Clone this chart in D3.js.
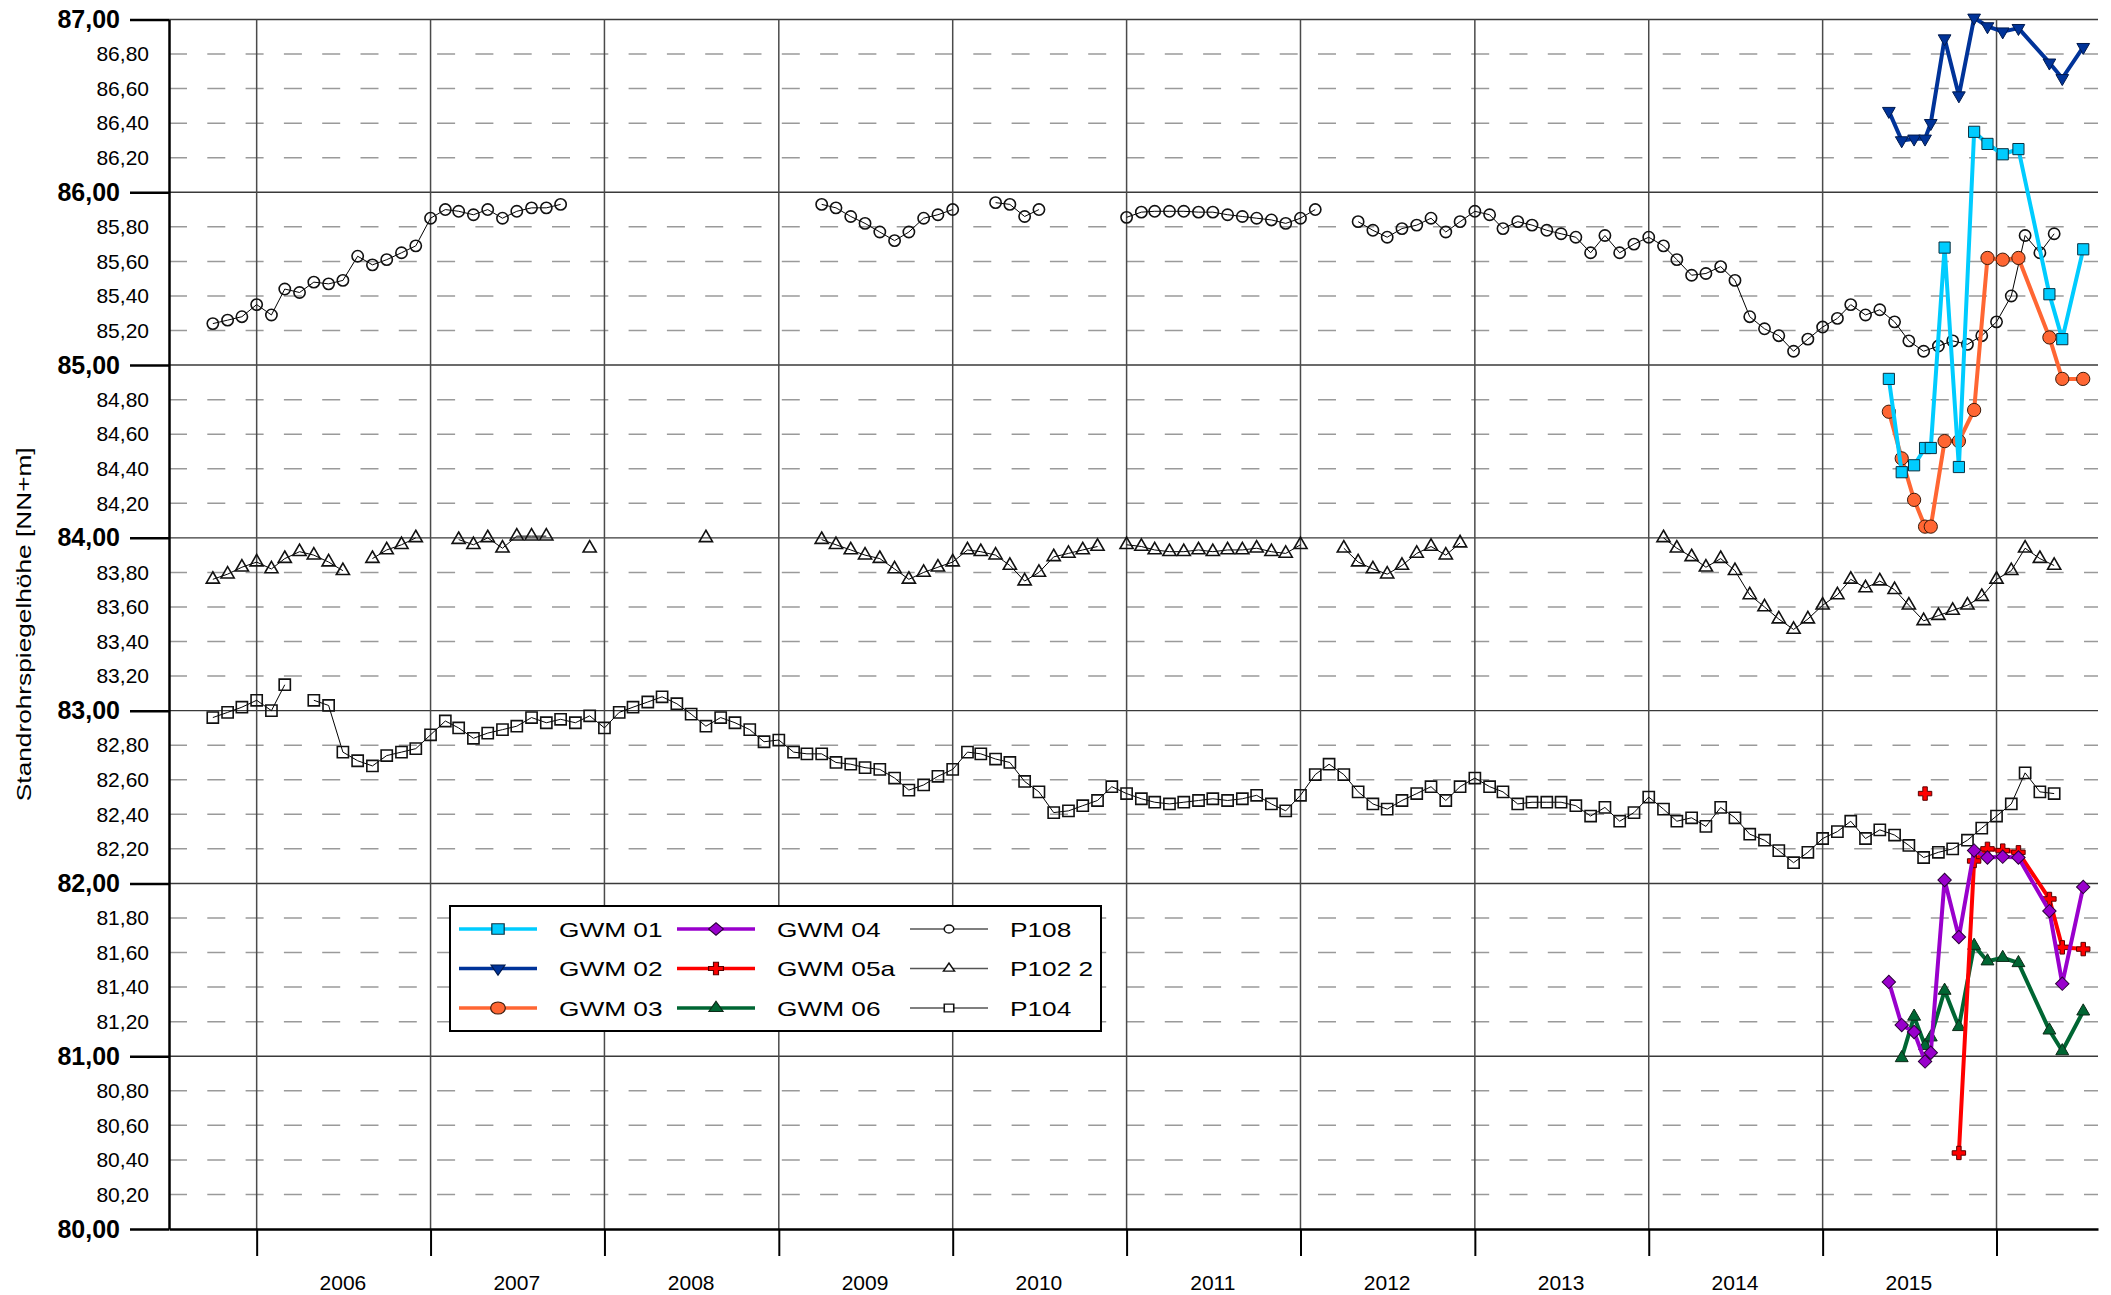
<!DOCTYPE html>
<html>
<head>
<meta charset="utf-8">
<script src="https://cdn.jsdelivr.net/npm/d3@7"></script>
<style>
  body { margin: 0; background: #fff; }
</style>
</head>
<body>
<svg id="chart" width="2111" height="1295"></svg>
<script>
// monthly readings from Oct 2005 to May 2016, null = no reading
const p108 = [
  85.24, 85.26, 85.28,                                                        // 2005 Oct-Dec
  85.35, 85.29, 85.44, 85.42, 85.48, 85.47, 85.49, 85.63, 85.58, 85.61, 85.65, 85.69, // 2006
  85.85, 85.90, 85.89, 85.87, 85.90, 85.85, 85.89, 85.91, 85.91, 85.93, null, null,   // 2007
  null, null, null, null, null, null, null, null, null, null, null, null,              // 2008
  null, null, null, 85.93, 85.91, 85.86, 85.82, 85.77, 85.72, 85.77, 85.85, 85.87,    // 2009
  85.90, null, null, 85.94, 85.93, 85.86, 85.90, null, null, null, null, null,        // 2010
  85.855, 85.885, 85.89, 85.89, 85.89, 85.885, 85.885, 85.87, 85.86, 85.85, 85.84, 85.82, // 2011
  85.85, 85.90, null, null, 85.83, 85.78, 85.74, 85.79, 85.81, 85.85, 85.77, 85.83,   // 2012
  85.89, 85.87, 85.79, 85.83, 85.81, 85.78, 85.76, 85.74, 85.65, 85.75, 85.65, 85.70, // 2013
  85.74, 85.69, 85.61, 85.52, 85.53, 85.57, 85.49, 85.28, 85.21, 85.17, 85.08, 85.15, // 2014
  85.22, 85.27, 85.35, 85.29, 85.32, 85.25, 85.14, 85.08, 85.11, 85.14, 85.12, 85.17, // 2015
  85.25, 85.40, 85.75, 85.65, 85.76                                            // 2016 Jan-May
];
const p102 = [
  83.76, 83.79, 83.83,
  83.86, 83.82, 83.88, 83.92, 83.90, 83.86, 83.81, null, 83.88, 83.93, 83.96, 84.00,
  null, null, 83.99, 83.96, 84.00, 83.94, 84.01, 84.01, 84.01, null, null, 83.94,
  null, null, null, null, null, null, null, 84.00, null, null, null, null,
  null, null, null, 83.99, 83.96, 83.93, 83.90, 83.88, 83.82, 83.76, 83.80, 83.83,
  83.86, 83.93, 83.92, 83.90, 83.84, 83.75, 83.80, 83.89, 83.91, 83.93, 83.95, null,
  83.96, 83.95, 83.93, 83.92, 83.92, 83.93, 83.92, 83.93, 83.93, 83.94, 83.92, 83.91,
  83.96, null, null, 83.94, 83.86, 83.82, 83.79, 83.84, 83.91, 83.95, 83.90, 83.97,
  null, null, null, null, null, null, null, null, null, null, null, null,
  null, 84.00, 83.94, 83.89, 83.83, 83.88, 83.81, 83.67, 83.60, 83.53, 83.47, 83.53,
  83.61, 83.67, 83.76, 83.71, 83.75, 83.70, 83.61, 83.52, 83.55, 83.58, 83.61, 83.66,
  83.76, 83.81, 83.94, 83.88, 83.84
];
const p104 = [
  82.96, 82.99, 83.02,
  83.06, 83.00, 83.15, null, 83.06, 83.03, 82.76, 82.71, 82.68, 82.74, 82.76, 82.78,
  82.86, 82.94, 82.90, 82.84, 82.87, 82.89, 82.91, 82.96, 82.93, 82.95, 82.93, 82.97,
  82.90, 82.99, 83.02, 83.05, 83.08, 83.04, 82.98, 82.91, 82.96, 82.93, 82.89, 82.82,
  82.83, 82.76, 82.75, 82.75, 82.70, 82.69, 82.67, 82.66, 82.61, 82.54, 82.57, 82.62,
  82.66, 82.76, 82.75, 82.72, 82.70, 82.59, 82.53, 82.41, 82.42, 82.45, 82.48, 82.56,
  82.52, 82.49, 82.47, 82.46, 82.47, 82.48, 82.49, 82.48, 82.49, 82.51, 82.46, 82.42,
  82.51, 82.63, 82.69, 82.63, 82.53, 82.46, 82.43, 82.48, 82.52, 82.56, 82.48, 82.56,
  82.61, 82.56, 82.53, 82.46, 82.47, 82.47, 82.47, 82.45, 82.39, 82.44, 82.36, 82.41,
  82.50, 82.43, 82.36, 82.38, 82.33, 82.44, 82.38, 82.285, 82.25, 82.19, 82.12, 82.18,
  82.26, 82.30, 82.36, 82.26, 82.31, 82.28, 82.22, 82.15, 82.18, 82.20, 82.25, 82.32,
  82.39, 82.46, 82.64, 82.53, 82.52
];

// GWM wells, measured on these days
const gwmDates = [
  "2015-05-20", "2015-06-16", "2015-07-12", "2015-08-04", "2015-08-16", "2015-09-14", "2015-10-14",
  "2015-11-15", "2015-12-13", "2016-01-14", "2016-02-16", "2016-04-21", "2016-05-18", "2016-07-01"
];
const gwm01 = [84.92, 84.38, 84.42, 84.52, 84.52, 85.68, 84.41, 86.35, 86.28, 86.22, 86.25, 85.41, 85.15, 85.67];
const gwm02 = [86.47, 86.30, 86.31, 86.31, 86.40, 86.89, 86.56, 87.01, 86.96, 86.93, 86.95, 86.75, 86.66, 86.84];
const gwm03 = [84.73, 84.46, 84.22, 84.065, 84.065, 84.56, 84.56, 84.74, 85.62, 85.61, 85.62, 85.16, 84.92, 84.92];
const gwm04 = [81.43, 81.18, 81.14, 80.97, 81.02, 82.02, 81.69, 82.19, 82.15, 82.155, 82.15, 81.84, 81.42, 81.98];
const gwm05a = [null, null, null, 82.52, null, null, 80.44, 82.13, 82.20, 82.19, 82.18, 81.91, 81.63, 81.62];
const gwm06 = [null, 80.99, 81.23, 81.06, 81.11, 81.38, 81.17, 81.64, 81.55, 81.57, 81.54, 81.15, 81.03, 81.26];

const yearLabels = ["2006", "2007", "2008", "2009", "2010", "2011", "2012", "2013", "2014", "2015"];
const yTitle = "Standrohrspiegelhöhe [NN+m]";

const FONT = "'Liberation Sans', Arial, sans-serif";
const width = 2111;
const height = 1295;
const marginTop = 19.5;
const marginRight = 13;
const marginBottom = 66;
const marginLeft = 169;

const svg = d3.select("#chart");
const fmt = d3.formatLocale({decimal: ",", thousands: ".", grouping: [3], currency: ["", " €"]}).format(".2f");

const x = d3.scaleTime()
    .domain([new Date(2005, 6, 1), new Date(2016, 7, 1)])
    .range([marginLeft, width - marginRight]);
const y = d3.scaleLinear()
    .domain([80, 87])
    .range([height - marginBottom, marginTop]);

const months = d3.timeMonth.range(new Date(2005, 9, 1), new Date(2016, 5, 1));
const parseDay = d3.timeParse("%Y-%m-%d");
const gwmDays = gwmDates.map(parseDay);

const majorTicks = y.ticks(7);
const minorTicks = y.ticks(35).filter((d) => Math.abs(d - Math.round(d)) > 1e-6);
const yearTicks = d3.timeYear.range(new Date(2006, 0, 1), new Date(2017, 0, 1));

// grid
const [x0, x1] = x.range();
svg.append("g").selectAll("line").data(minorTicks).join("line")
    .attr("x1", x0).attr("x2", x1)
    .attr("y1", (d) => y(d)).attr("y2", (d) => y(d))
    .attr("stroke", "#9a9a9a").attr("stroke-width", 1.5)
    .attr("stroke-dasharray", "18,20.3");
svg.append("g").selectAll("line").data(majorTicks.filter((d) => d > 80)).join("line")
    .attr("x1", x0).attr("x2", x1)
    .attr("y1", (d) => y(d)).attr("y2", (d) => y(d))
    .attr("stroke", "#3a3a3a").attr("stroke-width", 1.4);
svg.append("g").selectAll("line").data(yearTicks).join("line")
    .attr("x1", (d) => x(d)).attr("x2", (d) => x(d))
    .attr("y1", y(80)).attr("y2", y(87))
    .attr("stroke", "#4a4a4a").attr("stroke-width", 1.5);

// series
function symbolPath(kind, size) {
    if (kind === "circle") return d3.symbol(d3.symbolCircle, size)();
    if (kind === "square" || kind === "diamond") return d3.symbol(d3.symbolSquare, size)();
    if (kind === "cross") return d3.symbol(d3.symbolCross, size)();
    return d3.symbol(d3.symbolTriangle, size)();
}
function symbolRotate(kind) {
    if (kind === "diamond") return " rotate(45)";
    if (kind === "triangleDown") return " rotate(180)";
    return "";
}

const series = [
    {name: "P104", dates: months, values: p104, color: "#000", lineWidth: 1, marker: "square", size: 125, fill: "none", stroke: "#111", strokeWidth: 1.6},
    {name: "P102 2", dates: months, values: p102, color: "#000", lineWidth: 1, marker: "triangleUp", size: 75, fill: "none", stroke: "#111", strokeWidth: 1.6},
    {name: "P108", dates: months, values: p108, color: "#000", lineWidth: 1, marker: "circle", size: 100, fill: "none", stroke: "#111", strokeWidth: 1.6},
    {name: "GWM 06", dates: gwmDays, values: gwm06, color: "#006633", lineWidth: 4, marker: "triangleUp", size: 72, fill: "#006633", stroke: "#0d2a18", strokeWidth: 1},
    {name: "GWM 05a", dates: gwmDays, values: gwm05a, color: "#ff0000", lineWidth: 4, marker: "cross", size: 100, fill: "#ff0000", stroke: "#5a0000", strokeWidth: 1},
    {name: "GWM 04", dates: gwmDays, values: gwm04, color: "#9900cc", lineWidth: 4, marker: "diamond", size: 90, fill: "#9900cc", stroke: "#2a0038", strokeWidth: 1},
    {name: "GWM 03", dates: gwmDays, values: gwm03, color: "#ff6633", lineWidth: 4, marker: "circle", size: 138, fill: "#ff6633", stroke: "#3a1a0a", strokeWidth: 1},
    {name: "GWM 02", dates: gwmDays, values: gwm02, color: "#003399", lineWidth: 4, marker: "triangleDown", size: 70, fill: "#003399", stroke: "#001a4d", strokeWidth: 1},
    {name: "GWM 01", dates: gwmDays, values: gwm01, color: "#00ccff", lineWidth: 4, marker: "square", size: 125, fill: "#00ccff", stroke: "#0a3040", strokeWidth: 1}
];

const line = d3.line()
    .defined((d) => d.v != null)
    .x((d) => x(d.t))
    .y((d) => y(d.v));

for (const s of series) {
    const pts = s.values.map((v, i) => ({t: s.dates[i], v: v}));
    const g = svg.append("g");
    g.append("path")
        .attr("d", line(pts))
        .attr("fill", "none")
        .attr("stroke", s.color)
        .attr("stroke-width", s.lineWidth)
        .attr("stroke-linejoin", "round");
    g.selectAll("path.mark").data(pts.filter((d) => d.v != null)).join("path")
        .attr("class", "mark")
        .attr("d", symbolPath(s.marker, s.size))
        .attr("transform", (d) => `translate(${x(d.t)},${y(d.v)})` + symbolRotate(s.marker))
        .attr("fill", s.fill)
        .attr("stroke", s.stroke)
        .attr("stroke-width", s.strokeWidth);
}

// axes
svg.append("g")
    .attr("transform", `translate(${marginLeft},0)`)
    .call(d3.axisLeft(y).tickValues(minorTicks).tickSize(0).tickPadding(20).tickFormat(fmt))
    .call((g) => g.select(".domain").remove())
    .attr("font-family", FONT).attr("font-size", 21)
    .call((g) => g.selectAll("text").attr("fill", "#000"));

svg.append("g")
    .attr("transform", `translate(${marginLeft},0)`)
    .call(d3.axisLeft(y).tickValues(majorTicks).tickSize(39).tickSizeOuter(0).tickPadding(10).tickFormat(fmt))
    .attr("font-family", FONT).attr("font-size", 25).attr("font-weight", "bold")
    .call((g) => g.select(".domain").attr("stroke-width", 2.5))
    .call((g) => g.selectAll(".tick line").attr("stroke-width", 2.5))
    .call((g) => g.selectAll("text").attr("fill", "#000"));

svg.append("g")
    .attr("transform", `translate(0,${y(80)})`)
    .call(d3.axisBottom(x).tickValues(yearTicks).tickSize(27).tickSizeOuter(0).tickFormat(""))
    .call((g) => g.select(".domain").attr("stroke-width", 2.5))
    .call((g) => g.selectAll(".tick line").attr("stroke-width", 2));

svg.append("g").selectAll("text").data(yearLabels).join("text")
    .attr("x", (d) => x(new Date(+d, 6, 1)))
    .attr("y", 1290)
    .attr("text-anchor", "middle")
    .attr("font-family", FONT).attr("font-size", 21)
    .text((d) => d);

// the title and legend text are drawn a bit wider than normal in the original
svg.append("text")
    .attr("transform", `translate(31,${(y(80) + y(87)) / 2}) rotate(-90) scale(1.25,1)`)
    .attr("text-anchor", "middle")
    .attr("font-family", FONT).attr("font-size", 21)
    .text(yTitle);

// legend
const legendOrder = ["GWM 01", "GWM 02", "GWM 03", "GWM 04", "GWM 05a", "GWM 06", "P108", "P102 2", "P104"];
const legendCols = [459, 677, 910];
const legendRows = [929, 968.5, 1008];
const legend = svg.append("g");
legend.append("rect")
    .attr("x", 450).attr("y", 906).attr("width", 651).attr("height", 125)
    .attr("fill", "#fff").attr("stroke", "#000").attr("stroke-width", 2);
legendOrder.forEach((name, i) => {
    const s = series.find((d) => d.name === name);
    const lx = legendCols[Math.floor(i / 3)];
    const ly = legendRows[i % 3];
    const isP = name.startsWith("P");
    const g = legend.append("g");
    g.append("line")
        .attr("x1", lx).attr("x2", lx + 78).attr("y1", ly).attr("y2", ly)
        .attr("stroke", isP ? "#555" : s.color)
        .attr("stroke-width", isP ? 1.5 : 3.5);
    g.append("path")
        .attr("d", symbolPath(s.marker, isP ? s.size * 0.5 : s.size * 0.85))
        .attr("transform", `translate(${lx + 39},${ly}) scale(1.2,1)` + symbolRotate(s.marker))
        .attr("fill", isP ? "#fff" : s.fill)
        .attr("stroke", s.stroke)
        .attr("stroke-width", isP ? 1.3 : 1);
    g.append("text")
        .attr("transform", `translate(${lx + 100},${ly + 7.5}) scale(1.25,1)`)
        .attr("font-family", FONT).attr("font-size", 21)
        .text(name);
});
</script>
</body>
</html>
